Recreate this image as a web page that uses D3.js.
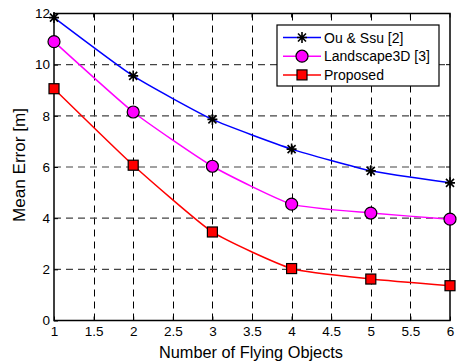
<!DOCTYPE html>
<html><head><meta charset="utf-8">
<script src="https://cdn.jsdelivr.net/npm/d3@7"></script>
<style>body{margin:0;background:#fff}svg{display:block;font-family:"Liberation Sans",Arial,sans-serif}</style>
</head><body><svg id="c" width="459" height="361"></svg>
<script>
const xValues = [1, 2, 3, 4, 5, 6];
const ouSsu = [11.84, 9.56, 7.86, 6.70, 5.85, 5.38];
const landscape3D = [10.90, 8.15, 6.03, 4.55, 4.20, 3.96];
const proposed = [9.06, 6.07, 3.46, 2.03, 1.62, 1.36];
const xTicks = [1, 1.5, 2, 2.5, 3, 3.5, 4, 4.5, 5, 5.5, 6];
const yTicks = [0, 2, 4, 6, 8, 10, 12];
const seriesNames = ["Ou & Ssu [2]", "Landscape3D [3]", "Proposed"];
const seriesColors = ["#0000ff", "#ff00ff", "#ff0000"];
const seriesMarkers = ["star", "circle", "square"];
const seriesValues = [ouSsu, landscape3D, proposed];

const svg = d3.select("#c");
const L = 54, R = 450, T = 13.5, B = 320.5;
const x = d3.scaleLinear().domain([1, 6]).range([L, R]);
const y = d3.scaleLinear().domain([0, 12]).range([B, T]);

// grid
const g = svg.append("g");
g.selectAll(".vg").data(xTicks.slice(1, -1)).join("line")
  .attr("x1", d => Math.round(x(d)) + 0.5).attr("x2", d => Math.round(x(d)) + 0.5)
  .attr("y1", T).attr("y2", B).attr("stroke", "#000").attr("stroke-width", 1)
  .attr("stroke-dasharray", "7,5");
g.selectAll(".hg").data(yTicks.slice(1, -1)).join("line")
  .attr("y1", d => y(d)).attr("y2", d => y(d))
  .attr("x1", L).attr("x2", R).attr("stroke", "#444").attr("stroke-width", 1.1)
  .attr("stroke-dasharray", "7,5");

// axes
const xAxis = d3.axisBottom(x).tickValues(xTicks).tickSize(-4).tickPadding(6).tickFormat(d3.format(""));
const yAxis = d3.axisLeft(y).tickValues(yTicks).tickSize(-4).tickPadding(4);
const gx = svg.append("g").attr("transform", `translate(0,${B})`).call(xAxis);
const gy = svg.append("g").attr("transform", `translate(${L},0)`).call(yAxis);
[gx, gy].forEach(a => {
  a.select(".domain").remove();
  a.selectAll("text").attr("font-size", 13.5).attr("fill", "#000").attr("font-family", "Liberation Sans, Arial, sans-serif");
  a.selectAll("line").attr("stroke", "#000");
});
// top/right ticks
svg.append("g").selectAll("line").data(xTicks).join("line")
  .attr("x1", d => x(d)).attr("x2", d => x(d)).attr("y1", T).attr("y2", T + 4).attr("stroke", "#000");
svg.append("g").selectAll("line").data(yTicks).join("line")
  .attr("y1", d => y(d)).attr("y2", d => y(d)).attr("x1", R).attr("x2", R - 4).attr("stroke", "#000");

svg.append("rect").attr("x", L).attr("y", T).attr("width", R - L).attr("height", B - T)
  .attr("fill", "none").attr("stroke", "#000").attr("stroke-width", 1.5);

// labels
svg.append("text").attr("x", 159).attr("y", 357.5).attr("text-anchor", "start")
  .attr("font-size", 16).attr("textLength", 184).attr("lengthAdjust", "spacingAndGlyphs")
  .text("Number of Flying Objects");
svg.append("text").attr("transform", `translate(24.5,222) rotate(-90)`).attr("text-anchor", "start")
  .attr("font-size", 16).attr("textLength", 114).attr("lengthAdjust", "spacingAndGlyphs")
  .text("Mean Error [m]");

function drawMarker(sel, type, color) {
  if (type === "star") {
    sel.append("path").attr("d", "M-5,0H5M0,-5.5V5.5M-4,-4L4,4M-4,4L4,-4")
      .attr("stroke", "#000").attr("stroke-width", 1.6).attr("fill", "none");
  } else if (type === "circle") {
    sel.append("circle").attr("r", 6).attr("fill", color).attr("stroke", "#000").attr("stroke-width", 1.2);
  } else {
    sel.append("rect").attr("x", -5).attr("y", -5).attr("width", 10).attr("height", 10)
      .attr("fill", color).attr("stroke", "#000").attr("stroke-width", 1.2);
  }
}

const line = d3.line().x(d => x(d[0])).y(d => y(d[1])).curve(d3.curveCardinal.tension(0.5));
seriesValues.forEach((vals, i) => {
  const pts = xValues.map((xv, j) => [xv, vals[j]]);
  svg.append("path").attr("d", line(pts)).attr("fill", "none")
    .attr("stroke", seriesColors[i]).attr("stroke-width", 1.5);
  pts.forEach(p => {
    drawMarker(svg.append("g").attr("transform", `translate(${x(p[0])},${y(p[1])})`), seriesMarkers[i], seriesColors[i]);
  });
});

// legend
const lg = svg.append("g");
lg.append("rect").attr("x", 277).attr("y", 25).attr("width", 162).attr("height", 61)
  .attr("fill", "#fff").attr("stroke", "#000").attr("stroke-width", 1.2);
seriesNames.forEach((name, i) => {
  const yy = 37.5 + i * 18.7;
  lg.append("line").attr("x1", 283).attr("x2", 321).attr("y1", yy).attr("y2", yy)
    .attr("stroke", seriesColors[i]).attr("stroke-width", 1.5);
  drawMarker(lg.append("g").attr("transform", `translate(302,${yy})`), seriesMarkers[i], seriesColors[i]);
  lg.append("text").attr("x", 324).attr("y", yy + 5).attr("font-size", 14).text(name);
});
</script></body></html>
